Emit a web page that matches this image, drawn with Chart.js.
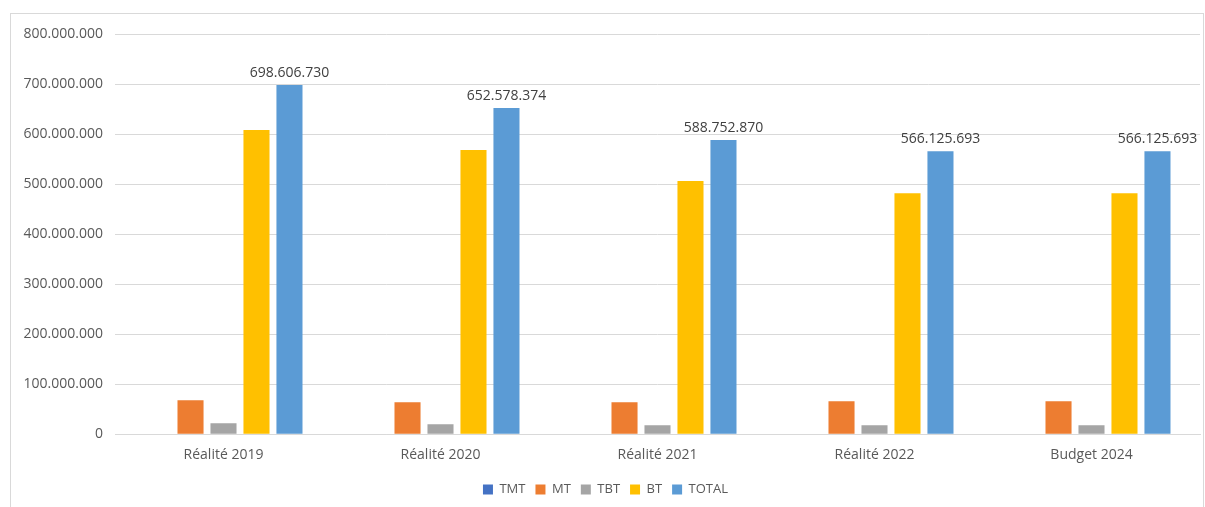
<!DOCTYPE html>
<html>
    <head>
        <script src="https://cdn.jsdelivr.net/npm/chart.js@4/dist/chart.umd.min.js"></script>
        <style>
            body { margin: 0; background: #fff; }
            #frame { position: absolute; left: 10px; top: 13px; width: 1192px; height: 500px; border: 1px solid #d9d9d9; }
            #wrap { position: relative; width: 1192px; height: 494px; }
        </style>
    </head>
    <body>
        <div id="frame"><div id="wrap"><canvas id="myChart"></canvas></div></div>
        <script>
        var categories = ['Réalité 2019', 'Réalité 2020', 'Réalité 2021', 'Réalité 2022', 'Budget 2024'];
        var dataTMT = [0, 0, 0, 0, 0];
        var dataMT = [68000000, 64000000, 64000000, 66000000, 66000000];
        var dataTBT = [22000000, 20000000, 18000000, 18000000, 18000000];
        var dataBT = [608606730, 568578374, 506752870, 482125693, 482125693];
        var dataTOTAL = [698606730, 652578374, 588752870, 566125693, 566125693];

        function fmt(v) {
            return String(Math.round(v)).replace(/\B(?=(\d{3})+(?!\d))/g, '.');
        }

        var fontFam = "'Open Sans', 'Liberation Sans', sans-serif";

        // labels above the TOTAL bars
        var totalLabels = {
            id: 'totalLabels',
            afterDatasetsDraw: function(chart) {
                var ctx = chart.ctx;
                var meta = chart.getDatasetMeta(4);
                ctx.save();
                ctx.font = '14px ' + fontFam;
                ctx.fillStyle = '#404040';
                ctx.textAlign = 'center';
                ctx.textBaseline = 'bottom';
                meta.data.forEach(function(bar, i) {
                    ctx.fillText(fmt(dataTOTAL[i]), bar.x, bar.y - 5);
                });
                ctx.restore();
            }
        };

        var ctx = document.getElementById('myChart');
        var myChart = new Chart(ctx, {
            type: 'bar',
            data: {
                labels: categories,
                datasets: [
                    { label: 'TMT', data: dataTMT, backgroundColor: '#4472C4' },
                    { label: 'MT', data: dataMT, backgroundColor: '#ED7D31' },
                    { label: 'TBT', data: dataTBT, backgroundColor: '#A5A5A5' },
                    { label: 'BT', data: dataBT, backgroundColor: '#FFC000' },
                    { label: 'TOTAL', data: dataTOTAL, backgroundColor: '#5B9BD5' }
                ]
            },
            options: {
                responsive: true,
                maintainAspectRatio: false,
                animation: false,
                categoryPercentage: 0.76,
                barPercentage: 0.79,
                layout: { padding: { top: 10, right: 3, left: 0, bottom: 2 } },
                plugins: {
                    legend: {
                        position: 'bottom',
                        labels: {
                            boxWidth: 10, boxHeight: 10, padding: 10,
                            color: '#595959',
                            font: { size: 13, family: fontFam }
                        }
                    },
                    tooltip: { enabled: false }
                },
                scales: {
                    x: {
                        afterFit: function(scale) { scale.height += 6; },
                        grid: { display: false },
                        border: { color: '#d9d9d9' },
                        ticks: { color: '#595959', font: { size: 14, family: fontFam }, padding: 4 }
                    },
                    y: {
                        min: 0,
                        max: 800000000,
                        afterFit: function(scale) { scale.width = 104; },
                        grid: { color: '#d9d9d9', drawTicks: false },
                        border: { display: false },
                        ticks: {
                            stepSize: 100000000,
                            color: '#595959',
                            padding: 12,
                            font: { size: 14, family: fontFam },
                            callback: function(v) { return fmt(v); }
                        }
                    }
                }
            },
            plugins: [totalLabels]
        });
        </script>
    </body>
</html>
